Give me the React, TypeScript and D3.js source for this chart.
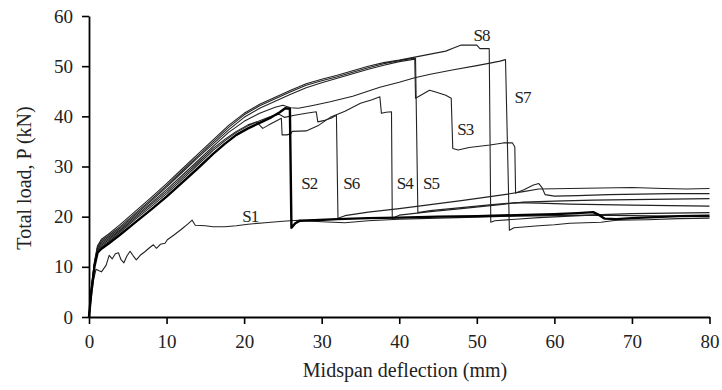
import React, { useEffect, useRef } from "react";
import * as d3 from "d3";

// load-deflection curves, [deflection mm, load kN]
const s1 = [[0,0],[0.3,4],[0.6,7.5],[0.9,9.5],[1.3,9.2],[1.6,9],[2.2,10.3],[2.6,12.3],[3,11.6],[3.4,12.6],[3.8,12.8],[4.1,11.5],[4.5,10.8],[4.9,12.2],[5.3,13.1],[5.7,12.2],[6.1,11.4],[6.6,12.3],[7.2,13],[7.8,13.8],[8.3,14.4],[8.7,13.7],[9.2,14.5],[9.8,14.7],[10.1,15.4],[11,16.4],[12,17.6],[12.8,18.6],[13.3,19.3],[13.7,18.3],[15,18.2],[16,18],[17.5,18],[19,18.2],[20.5,18.5],[22.7,18.8],[25,19.1],[27,19.3],[30,19],[33,18.8],[36,19.2],[40,19.5],[45,19.7],[50,19.9],[55,20.1],[60,20.2],[65,20.3],[70,20.2],[75,20.1],[80,20.0]];
const s2 = [[0,0],[0.3,5],[0.7,10],[1.1,12.8],[1.6,13.6],[2.5,14.6],[4,16.4],[6,18.9],[8,21.4],[10,24],[12,26.8],[14,29.6],[16,32.5],[17.5,34.5],[19,36.3],[20.5,37.6],[22,38.7],[23.5,39.8],[24.6,40.8],[25.3,41.6],[25.9,41.5],[26.1,17.8],[26.6,18.7],[27.2,19.2],[29,19.3],[32,19.5],[36,19.7],[40,19.8],[45,20],[50,20.1],[55,20.3],[60,20.5],[63,20.7],[65,20.9],[65.8,20.3],[66.5,19.6],[68,19.5],[70,19.7],[73,19.9],[76,20.1],[80,20.2]];
const s3 = [[0,0],[0.3,5.4],[0.7,10.6],[1.1,13.8],[1.6,14.9],[2.5,15.9],[4,17.7],[6,20.4],[8,23.1],[10,25.9],[12,28.8],[14,31.7],[16,34.5],[18,37.3],[20,39.8],[22,41.6],[24,43],[26,44.4],[28,45.7],[30,46.7],[32,47.6],[34,48.5],[36,49.4],[38,50.2],[40,50.9],[41.2,51.2],[42,51.4],[42.1,43.6],[43,44.4],[43.9,45.2],[44.6,44.9],[46,44.2],[46.7,43.6],[46.9,33.6],[47.6,33.3],[49,33.8],[51.7,34.3],[53.4,34.7],[54.6,34.7],[54.9,33.9],[55,24.7],[56,25.3],[57.3,26.3],[58,26.6],[58.4,25.8],[58.8,24.4],[60,24.1],[63,24.2],[67,24.4],[71,24.5],[75,24.6],[80,24.6]];
const s4 = [[0,0],[0.3,5.3],[0.7,10.4],[1.1,13.4],[1.6,14.3],[2.5,15.3],[4,17.2],[6,19.8],[8,22.4],[10,25],[12,27.8],[14,30.7],[16,33.6],[17.5,35.4],[19,37],[20.5,38.3],[21.6,38.9],[22.4,37.6],[23.2,38.3],[24.2,39.1],[24.8,39.6],[24.9,36.3],[25.5,36.3],[26,36.5],[26.2,37],[28,37.1],[29.5,38.1],[31.1,39.8],[33,41],[35,42.6],[36.5,43.3],[37.5,43.9],[37.7,40.6],[38.3,40.8],[39,40.9],[39.1,19.7],[40,20.3],[44,21],[48,21.6],[53,22.4],[56,22.9],[60,23.1],[65,23.3],[70,23.4],[75,23.5],[80,23.6]];
const s5 = [[0,0],[0.3,5.6],[0.7,10.8],[1.1,14],[1.6,15.2],[2.5,16.2],[4,18],[6,20.7],[8,23.4],[10,26.2],[12,29.1],[14,32],[16,34.9],[18,37.8],[20,40.3],[22,42.1],[24,43.5],[26,44.9],[28,46.2],[30,47.1],[32,47.9],[34,48.8],[36,49.7],[38,50.5],[40,51.1],[41.5,51.5],[42.1,51.6],[42.4,20.8],[44,21.2],[48,21.8],[52,22.4],[55,22.8],[58,22.7],[62,22.5],[66,22.4],[70,22.3],[75,22.2],[80,22.1]];
const s6 = [[0,0],[0.3,5.2],[0.7,10.2],[1.1,13.2],[1.6,14],[2.5,15],[4,16.9],[6,19.5],[8,22],[10,24.6],[12,27.4],[14,30.3],[16,33.2],[17.5,35.1],[19,36.8],[20.5,38.1],[22,39.1],[23.5,40],[24.5,40.4],[25.2,39.8],[26.5,40.2],[28,40.6],[29.3,40.9],[29.5,38.9],[30.4,39.2],[31.2,39.6],[31.9,40.2],[32.1,19.7],[33,20.2],[36,20.9],[40,21.6],[44,22.4],[48,23.2],[51.7,24],[54,24.5],[56,25],[58,25.5],[62,25.6],[66,25.7],[70,25.8],[74,25.6],[77,25.5],[80,25.6]];
const s7 = [[0,0],[0.3,5.3],[0.7,10.3],[1.1,13.5],[1.6,14.6],[2.5,15.6],[4,17.4],[6,20.1],[8,22.7],[10,25.4],[12,28.2],[14,31.1],[16,34],[18,36.8],[20,39],[22,40.6],[24,41.8],[25,42.2],[26,41.7],[27,41.6],[29,42.2],[31.1,42.9],[34,44],[37.5,45.8],[40,46.8],[42,47.7],[44,48.4],[47,49.3],[50,50.1],[51.7,50.6],[53,51],[53.7,51.3],[54.2,17.3],[54.8,17.8],[58,18.2],[60,18.4],[62,18.7],[66,18.9],[68,19.3],[72,19.4],[76,19.6],[80,19.7]];
const s8 = [[0,0],[0.3,5.7],[0.7,11],[1.1,14.2],[1.6,15.5],[2.5,16.5],[4,18.4],[6,21.1],[8,23.8],[10,26.6],[12,29.5],[14,32.4],[16,35.3],[18,38.2],[20,40.6],[22,42.4],[24,43.8],[26,45.2],[28,46.5],[30,47.4],[32,48.2],[34,49.1],[36,50],[38,50.7],[40,51.2],[42,51.8],[44,52.4],[46,53],[47,53.6],[48,54.2],[50,54.2],[50.4,53.5],[51.6,53.5],[51.8,18.9],[52.3,19.2],[55,19.5],[58,19.8],[62,20.1],[66,20.4],[70,20.6],[75,20.7],[80,20.8]];

const seriesNames = ["S1", "S3", "S4", "S5", "S6", "S7", "S8", "S2"];
const seriesData = [s1, s3, s4, s5, s6, s7, s8, s2];

// label anchors in data units
const labelNames = ["S1", "S2", "S6", "S4", "S5", "S3", "S7", "S8"];
const labelX = [20.8, 28.4, 33.8, 40.7, 44.1, 48.5, 55.9, 50.6];
const labelY = [20.1, 26.8, 26.8, 26.8, 26.8, 37.5, 43.9, 56.2];

const xTicks = [0, 10, 20, 30, 40, 50, 60, 70, 80];
const yTicks = [0, 10, 20, 30, 40, 50, 60];

const W = 722, H = 390;
const margin = { left: 89, right: 12.5, top: 16, bottom: 73 };
const font = "'Liberation Serif', 'Times New Roman', serif";

function App() {
    const ref = useRef(null);

    useEffect(() => {
        const svg = d3.select(ref.current);
        svg.selectAll("*").remove();

        const x = d3.scaleLinear().domain([0, 80]).range([margin.left, W - margin.right]);
        const y = d3.scaleLinear().domain([0, 60]).range([H - margin.bottom, margin.top]);

        const line = d3.line().x(d => x(d[0])).y(d => y(d[1]));

        // curves
        svg.append("g")
            .selectAll("path")
            .data(seriesData)
            .join("path")
            .attr("d", d => line(d))
            .attr("fill", "none")
            .attr("stroke", (d, i) => seriesNames[i] === "S2" ? "#000" : "#222")
            .attr("stroke-width", (d, i) => seriesNames[i] === "S2" ? 2.4 : 1.1)
            .attr("stroke-linejoin", "round");

        // axes
        const xAxis = svg.append("g")
            .attr("transform", `translate(0,${y(0)})`)
            .call(d3.axisBottom(x).tickValues(xTicks).tickSize(7).tickPadding(11).tickSizeOuter(0));
        const yAxis = svg.append("g")
            .attr("transform", `translate(${x(0)},0)`)
            .call(d3.axisLeft(y).tickValues(yTicks).tickSize(7).tickPadding(9).tickSizeOuter(0));

        [xAxis, yAxis].forEach(g => {
            g.select(".domain").attr("stroke", "#000").attr("stroke-width", 1.8);
            g.selectAll(".tick line").attr("stroke", "#000").attr("stroke-width", 1.6);
            g.selectAll(".tick text")
                .attr("fill", "#222")
                .style("font-family", font)
                .style("font-size", "19px");
        });

        // series labels
        svg.append("g")
            .selectAll("text")
            .data(labelNames)
            .join("text")
            .attr("x", (d, i) => x(labelX[i]))
            .attr("y", (d, i) => y(labelY[i]))
            .attr("text-anchor", "middle")
            .attr("dy", "0.35em")
            .attr("fill", "#222")
            .style("font-family", font)
            .style("font-size", "17px")
            .style("letter-spacing", "-1px")
            .text(d => d);

        // axis titles
        svg.append("text")
            .attr("x", 405)
            .attr("y", 377)
            .attr("text-anchor", "middle")
            .attr("fill", "#222")
            .style("font-family", font)
            .style("font-size", "20px")
            .text("Midspan deflection (mm)");

        svg.append("text")
            .attr("transform", "translate(31,178) rotate(-90)")
            .attr("text-anchor", "middle")
            .attr("fill", "#222")
            .style("font-family", font)
            .style("font-size", "20px")
            .text("Total load, P (kN)");
    }, []);

    return (
        <div style={{ position: "fixed", left: 0, top: 0, background: "#fff" }}>
            <svg ref={ref} width={W} height={H} style={{ display: "block" }}></svg>
        </div>
    );
}

export default App;
